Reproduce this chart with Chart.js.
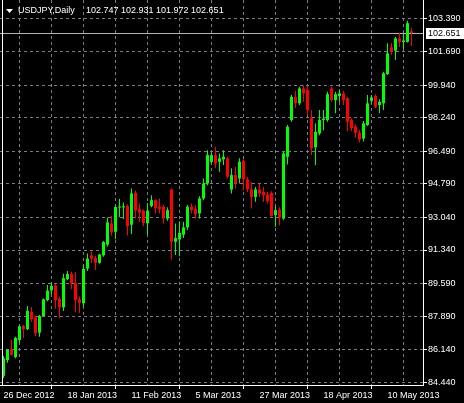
<!DOCTYPE html>
<html><head><meta charset="utf-8">
<script src="https://cdn.jsdelivr.net/npm/chart.js@4.4.0/dist/chart.umd.min.js"></script>
<style>html,body{margin:0;padding:0;background:#000;overflow:hidden}canvas{display:block}</style>
</head><body>
<canvas id="c" width="464" height="403"></canvas>
<script>
const symbolTitle = 'USDJPY,Daily';
const dates = [
 '26 Dec 2012','27 Dec 2012','28 Dec 2012','31 Dec 2012','2 Jan 2013','3 Jan 2013','4 Jan 2013','7 Jan 2013','8 Jan 2013','9 Jan 2013',
 '10 Jan 2013','11 Jan 2013','14 Jan 2013','15 Jan 2013','16 Jan 2013','17 Jan 2013','18 Jan 2013','21 Jan 2013','22 Jan 2013','23 Jan 2013',
 '24 Jan 2013','25 Jan 2013','28 Jan 2013','29 Jan 2013','30 Jan 2013','31 Jan 2013','1 Feb 2013','4 Feb 2013','5 Feb 2013','6 Feb 2013',
 '7 Feb 2013','8 Feb 2013','11 Feb 2013','12 Feb 2013','13 Feb 2013','14 Feb 2013','15 Feb 2013','18 Feb 2013','19 Feb 2013','20 Feb 2013',
 '21 Feb 2013','22 Feb 2013','25 Feb 2013','26 Feb 2013','27 Feb 2013','28 Feb 2013','1 Mar 2013','4 Mar 2013','5 Mar 2013','6 Mar 2013',
 '7 Mar 2013','8 Mar 2013','11 Mar 2013','12 Mar 2013','13 Mar 2013','14 Mar 2013','15 Mar 2013','18 Mar 2013','19 Mar 2013','20 Mar 2013',
 '21 Mar 2013','22 Mar 2013','25 Mar 2013','26 Mar 2013','27 Mar 2013','28 Mar 2013','29 Mar 2013','1 Apr 2013','2 Apr 2013','3 Apr 2013',
 '4 Apr 2013','5 Apr 2013','8 Apr 2013','9 Apr 2013','10 Apr 2013','11 Apr 2013','12 Apr 2013','15 Apr 2013','16 Apr 2013','17 Apr 2013',
 '18 Apr 2013','19 Apr 2013','22 Apr 2013','23 Apr 2013','24 Apr 2013','25 Apr 2013','26 Apr 2013','29 Apr 2013','30 Apr 2013','1 May 2013',
 '2 May 2013','3 May 2013','6 May 2013','7 May 2013','8 May 2013','9 May 2013','10 May 2013','13 May 2013','14 May 2013','15 May 2013',
 '16 May 2013','17 May 2013','20 May 2013'
];
const open = [
 84.78,85.60,86.16,85.76,86.65,87.38,87.21,88.11,87.82,87.03,
 87.90,88.73,89.23,89.49,88.79,88.35,89.82,90.09,89.61,88.77,
 88.56,90.37,91.06,90.92,90.67,91.06,91.62,92.73,92.29,93.55,
 93.56,93.63,92.66,94.32,93.47,93.38,92.73,93.63,93.94,93.60,
 93.60,92.98,94.50,91.77,91.89,92.14,92.52,93.60,93.47,93.25,
 94.03,94.81,95.94,96.29,95.94,96.07,96.12,94.50,95.25,95.07,
 95.99,95.02,94.50,94.11,94.50,94.37,94.24,94.32,93.16,93.45,
 92.98,96.20,98.12,99.33,98.99,99.77,99.68,98.21,96.69,97.42,
 98.12,98.12,99.77,99.16,99.37,99.51,99.25,98.12,97.77,97.45,
 97.15,97.86,99.12,99.37,98.90,98.99,100.52,101.91,101.74,102.38,
 102.19,102.20,102.747
];
const high = [
 85.81,86.18,86.65,86.82,87.39,87.43,88.42,88.37,87.92,87.95,
 88.81,89.52,89.66,89.58,88.90,90.10,90.25,90.20,90.18,88.91,
 90.59,91.16,91.26,91.04,91.15,91.81,93.04,93.12,93.63,94.00,
 93.82,93.73,94.55,94.44,93.77,93.47,93.79,94.20,93.99,94.03,
 93.70,93.57,94.55,92.72,92.83,92.81,93.69,93.76,93.68,94.15,
 95.07,96.55,96.41,96.72,96.38,96.55,96.20,95.60,95.68,96.12,
 96.07,95.16,94.90,94.63,94.81,94.63,94.37,94.41,93.63,93.57,
 96.46,97.86,99.42,99.65,99.86,99.94,99.89,98.64,97.95,98.64,
 98.64,99.59,99.86,99.59,99.72,99.65,99.32,98.21,97.90,97.60,
 98.07,99.42,99.42,99.47,99.21,100.62,102.12,102.12,102.45,102.67,
 102.61,103.30,102.931
];
const low = [
 84.66,85.46,85.84,85.69,86.51,86.75,87.17,87.60,86.86,86.82,
 87.87,88.67,89.03,88.27,87.77,88.16,89.78,89.31,88.10,88.06,
 88.38,90.25,90.65,90.30,90.62,90.99,91.52,92.08,91.90,93.06,
 92.96,92.10,92.18,92.99,92.80,92.58,92.15,93.57,93.25,93.25,
 92.72,92.86,90.84,91.08,91.02,91.97,92.39,93.25,92.99,92.99,
 93.94,94.72,95.85,95.60,95.42,95.77,95.07,94.29,94.55,94.81,
 94.46,94.37,93.51,93.86,94.11,93.86,93.77,93.08,92.55,92.63,
 92.90,95.80,98.03,98.73,98.90,99.07,98.38,96.29,95.77,97.33,
 97.59,98.03,99.07,98.47,99.07,98.90,97.54,97.55,97.20,96.95,
 97.00,97.81,98.99,98.73,98.47,98.64,100.47,101.51,101.25,101.93,
 101.82,102.16,101.972
];
const close = [
 85.69,86.13,85.87,86.75,87.36,87.21,88.16,87.73,87.00,87.90,
 88.77,89.22,89.47,88.73,88.34,89.87,90.09,89.61,88.73,88.59,
 90.35,90.89,90.89,90.67,91.10,91.76,92.78,92.26,93.58,93.61,
 93.62,92.59,94.29,93.40,93.29,92.75,93.40,93.94,93.52,93.47,
 93.04,93.42,91.77,91.96,92.24,92.52,93.60,93.42,93.21,94.03,
 94.81,96.29,96.29,95.85,96.12,96.20,95.16,95.25,94.81,95.94,
 95.02,94.50,94.11,94.50,94.29,94.20,93.90,93.12,93.42,93.03,
 96.38,97.77,99.33,98.99,99.77,99.51,98.64,96.64,97.51,98.12,
 98.19,99.47,99.16,99.47,99.51,99.16,98.03,97.70,97.45,97.10,
 97.95,98.99,99.30,98.81,99.07,100.56,101.60,101.68,102.38,102.20,
 102.27,103.17,102.651
];
const priceTicks = [84.44,86.14,87.89,89.59,91.34,93.04,94.79,96.49,98.24,99.94,101.69,103.39];
const gridBars = [0,8,16,24,32,40,48,56,64,72,80,88,96,104];
const labelEvery = 16;

const UP = '#00ff00', DOWN = '#ff0000', GRID = '#777d86', FONT = 'Liberation Sans';
const n = dates.length;
const colors = close.map((c, i) => c >= open[i] ? UP : DOWN);
const last = n - 1;

const mtPlugin = {
  id: 'mt',
  beforeDraw(chart) {
    const ctx = chart.ctx;
    ctx.save(); ctx.fillStyle = '#000'; ctx.fillRect(0, 0, chart.width, chart.height); ctx.restore();
  },
  beforeDatasetsDraw(chart) {
    const ctx = chart.ctx, a = chart.chartArea, y = Math.round(chart.scales.y.getPixelForValue(close[last])) + 0.5;
    ctx.save(); ctx.strokeStyle = '#b4b4b4'; ctx.lineWidth = 1;
    ctx.beginPath(); ctx.moveTo(a.left, y); ctx.lineTo(a.right, y); ctx.stroke(); ctx.restore();
  },
  afterDraw(chart) {
    const ctx = chart.ctx, a = chart.chartArea;
    ctx.save();
    ctx.strokeStyle = '#fff'; ctx.lineWidth = 1;
    ctx.beginPath(); ctx.moveTo(2.5, 0); ctx.lineTo(2.5, a.bottom + 0.5); ctx.stroke();
    const y = chart.scales.y.getPixelForValue(close[last]);
    ctx.fillStyle = '#fff'; ctx.fillRect(426, Math.round(y) - 5, 38, 11);
    ctx.fillStyle = '#000'; ctx.font = '9px "' + FONT + '"'; ctx.textBaseline = 'middle'; ctx.textAlign = 'left';
    ctx.fillText(close[last].toFixed(3), 428, Math.round(y) + 0.5);
    ctx.fillStyle = '#fff';
    ctx.beginPath(); ctx.moveTo(6, 9); ctx.lineTo(13, 9); ctx.lineTo(9.5, 13); ctx.closePath(); ctx.fill();
    ctx.fillText(symbolTitle, 18, 11);
    ctx.fillText([open[last], high[last], low[last], close[last]].map(v => v.toFixed(3)).join(' '), 86, 11);
    ctx.restore();
  }
};

new Chart(document.getElementById('c'), {
  type: 'bar',
  data: {
    datasets: [
      { label: 'wick', data: dates.map((d, i) => ({ x: i, y: [low[i], high[i]] })),
        backgroundColor: colors, barThickness: 1, grouped: false, borderWidth: 0, inflateAmount: 0, borderSkipped: false },
      { label: 'body', data: dates.map((d, i) => ({ x: i, y: [open[i], close[i]] })),
        backgroundColor: colors, barThickness: 3, grouped: false, borderWidth: 0, inflateAmount: 0, borderSkipped: false }
    ]
  },
  options: {
    responsive: false, animation: false, events: [],
    layout: { padding: 0 },
    plugins: { legend: { display: false }, tooltip: { enabled: false }, title: { display: false } },
    scales: {
      x: {
        type: 'linear', min: -0.875, max: 104.875, offset: false,
        afterBuildTicks: s => { s.ticks = gridBars.map(v => ({ value: v })); },
        afterFit: s => { s.height = 18; s.paddingLeft = 0; s.paddingRight = 0; },
        grid: { color: GRID, lineWidth: 1, drawTicks: true, tickLength: 4, tickWidth: 1, tickBorderDash: [],
          tickColor: c => (c.tick && c.tick.value % labelEvery === 0) ? '#ffffff' : 'rgba(0,0,0,0)' },
        border: { display: true, color: '#ffffff', width: 1, dash: [3, 3] },
        ticks: { color: '#ffffff', font: { family: FONT, size: 9 }, maxRotation: 0, minRotation: 0, autoSkip: false,
          align: 'start', padding: 1, callback: v => (v % labelEvery === 0 && dates[v]) ? dates[v] : '' }
      },
      y: {
        type: 'linear', position: 'right', min: 84.299, max: 104.381,
        afterBuildTicks: s => { s.ticks = priceTicks.map(v => ({ value: v })); },
        afterFit: s => { s.width = 41; s.paddingTop = 0; s.paddingBottom = 0; },
        grid: { color: GRID, lineWidth: 1, drawTicks: true, tickLength: 4, tickWidth: 1, tickBorderDash: [], tickColor: '#ffffff' },
        border: { display: true, color: '#ffffff', width: 1, dash: [3, 3] },
        ticks: { color: '#ffffff', font: { family: FONT, size: 9 }, autoSkip: false, padding: 1, callback: v => v.toFixed(3) }
      }
    }
  },
  plugins: [mtPlugin]
});
</script>
</body></html>
